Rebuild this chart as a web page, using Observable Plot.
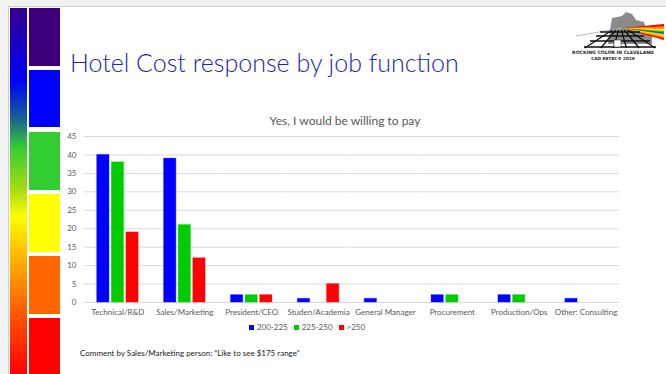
<!DOCTYPE html>
<html>
<head>
<meta charset="utf-8">
<script src="https://cdn.jsdelivr.net/npm/d3@7"></script>
<script src="https://cdn.jsdelivr.net/npm/@observablehq/plot@0.6"></script>
<style>
  html, body { margin: 0; padding: 0; background: #fff; }
  #page { position: relative; width: 666px; height: 374px; overflow: hidden; background: #fff; font-family: Lato, "Open Sans", sans-serif; }
  .abs { position: absolute; }
  #title { left: 70px; top: 47px; font-size: 25px; font-weight: 300; color: #1f1fb0; white-space: nowrap; line-height: normal; }
  #subtitle { left: 0; width: 690px; top: 113px; text-align: center; font-size: 12px; color: #595959; white-space: nowrap; }
  #chart { left: 60px; top: 128px; }
  #legend { left: 0; width: 614px; top: 322px; text-align: center; font-size: 8px; color: #595959; white-space: nowrap; }
  #legend span.sw { display: inline-block; width: 5px; height: 5px; margin-right: 3px; vertical-align: 0px; }
  #legend span.item { margin: 0 3px; }
  #comment { left: 80px; top: 348px; font-size: 8px; color: #222; white-space: nowrap; }
</style>
</head>
<body>
<div id="page">
  <svg class="abs" style="left:0;top:0" width="666" height="374" id="deco"></svg>
  <div id="title" class="abs">Hotel Cost response by job function</div>
  <div id="subtitle" class="abs">Yes, I would be willing to pay</div>
  <div id="chart" class="abs"></div>
  <div id="legend" class="abs"></div>
  <div id="comment" class="abs">Comment by Sales/Marketing person: “Like to see $175 range”</div>
</div>
<script>
const categories = ["Technical/R&D", "Sales/Marketing", "President/CEO", "Studen/Academia", "General Manager", "Procurement", "Production/Ops", "Other: Consulting"];
const series = ["200-225", "225-250", ">250"];
const seriesColors = ["#0000ff", "#00cc00", "#ff0000"];
const values200_225 = [40, 39, 2, 1, 1, 2, 2, 1];
const values225_250 = [38, 21, 2, 0, 0, 2, 2, 0];
const valuesOver250 = [19, 12, 2, 5, 0, 0, 0, 0];
const yTicks = [0, 5, 10, 15, 20, 25, 30, 35, 40, 45];

const seriesValues = [values200_225, values225_250, valuesOver250];
const data = [];
categories.forEach((c, i) => {
  series.forEach((s, j) => {
    data.push({category: c, series: s, value: seriesValues[j][i]});
  });
});

const chart = Plot.plot({
  width: 570,
  height: 195,
  marginLeft: 24,
  marginRight: 11,
  marginTop: 8,
  marginBottom: 21,
  style: {fontFamily: "Lato, 'Open Sans', sans-serif", fontSize: "8px", color: "#595959", background: "transparent", overflow: "visible"},
  fx: {domain: categories, padding: 0, round: false, axis: "bottom", tickSize: 0, tickPadding: 7, label: null},
  x: {domain: series, axis: null, round: false, paddingInner: 0.16, paddingOuter: 0.87},
  y: {domain: [0, 45], ticks: yTicks, tickSize: 0, tickPadding: 8, label: null},
  color: {domain: series, range: seriesColors},
  marks: [
    Plot.ruleY(yTicks, {stroke: "#d9d9d9", strokeWidth: 1}),
    Plot.barY(data, {fx: "category", x: "series", y: "value", fill: "series", stroke: "series", strokeOpacity: 0.3, strokeWidth: 1.2})
  ]
});
document.getElementById("chart").appendChild(chart);

// legend
const legend = document.getElementById("legend");
series.forEach((s, i) => {
  const item = document.createElement("span");
  item.className = "item";
  const sw = document.createElement("span");
  sw.className = "sw";
  sw.style.background = seriesColors[i];
  item.appendChild(sw);
  item.appendChild(document.createTextNode(s));
  legend.appendChild(item);
});

// decoration: slide frame, colour strip and logo
const deco = d3.select("#deco");
deco.append("rect").attr("x", 0).attr("y", 0).attr("width", 666).attr("height", 6).attr("fill", "#f2f2f2");
deco.append("rect").attr("x", 0).attr("y", 0).attr("width", 8).attr("height", 374).attr("fill", "#f2f2f2");
deco.append("line").attr("x1", 8).attr("x2", 666).attr("y1", 6.5).attr("y2", 6.5).attr("stroke", "#d0d0d0");
deco.append("line").attr("x1", 8.5).attr("x2", 8.5).attr("y1", 6).attr("y2", 374).attr("stroke", "#d0d0d0");

const grad = deco.append("defs").append("linearGradient").attr("id", "rainbow").attr("x1", 0).attr("x2", 0).attr("y1", 0).attr("y2", 1);
[[0, "#33008a"], [0.2, "#0000ff"], [0.31, "#1a6a8a"], [0.38, "#33cc33"], [0.5, "#aadd11"], [0.57, "#ffff00"], [0.7, "#ffaa00"], [0.84, "#ff5500"], [1, "#ff0000"]]
  .forEach(([o, c]) => grad.append("stop").attr("offset", o).attr("stop-color", c));
deco.append("rect").attr("x", 10).attr("y", 8).attr("width", 17).attr("height", 366).attr("fill", "url(#rainbow)");

const blocks = [["#3d007a", 8, 58], ["#0000ff", 70, 57], ["#33cc33", 132, 58], ["#ffff00", 194, 58], ["#ff6600", 256, 58], ["#ff0000", 318, 56]];
blocks.forEach(([c, y, h]) => deco.append("rect").attr("x", 29).attr("y", y).attr("width", 31).attr("height", h).attr("fill", c));

// logo (approximation)
const logo = deco.append("g");
logo.append("path").attr("d", "M610 30 L612 18 L622 16 L626 12 L632 14 L636 20 L644 22 L646 28 L652 30 L652 44 L608 44 Z").attr("fill", "#8a8a8a");
logo.append("path").attr("d", "M622 28 L664 24 L664 40 Z").attr("fill", "#ff0000");
logo.append("path").attr("d", "M622 28 L664 26.5 L664 38 Z").attr("fill", "#ff9900");
logo.append("path").attr("d", "M622 28 L664 29 L664 36 Z").attr("fill", "#ffee00");
logo.append("path").attr("d", "M622 28 L664 31 L664 34.5 Z").attr("fill", "#33bb33");
logo.append("path").attr("d", "M622 28 L664 32.5 L664 33.5 Z").attr("fill", "#3333ff");
logo.append("line").attr("x1", 576).attr("y1", 36).attr("x2", 622).attr("y2", 28).attr("stroke", "#bbbbbb").attr("stroke-width", 1);
const road = logo.append("g").attr("stroke", "#111").attr("stroke-width", 1.3).attr("fill", "none");
road.append("path").attr("d", "M600 32 L640 32 M596 36 L644 36 M590 41 L650 41 M584 47 L656 47");
[-22, -12, -4, 4, 12, 22].forEach((d) => {
  road.append("line").attr("x1", 620 + d * 0.35).attr("y1", 30).attr("x2", 620 + d * 1.6).attr("y2", 48);
});
logo.append("rect").attr("x", 614).attr("y", 40).attr("width", 7).attr("height", 7).attr("fill", "#fff").attr("stroke", "#333").attr("stroke-width", 0.6);
logo.append("text").attr("x", 613).attr("y", 54).attr("text-anchor", "middle").attr("font-size", 4.6).attr("font-weight", 700).attr("font-family", "DejaVu Sans, sans-serif").attr("fill", "#222").text("ROCKING COLOR IN CLEVELAND");
logo.append("text").attr("x", 613).attr("y", 59.5).attr("text-anchor", "middle").attr("font-size", 4.2).attr("font-weight", 700).attr("font-family", "DejaVu Sans, sans-serif").attr("fill", "#222").text("CAD RETEC® 2019");
</script>
</body>
</html>
